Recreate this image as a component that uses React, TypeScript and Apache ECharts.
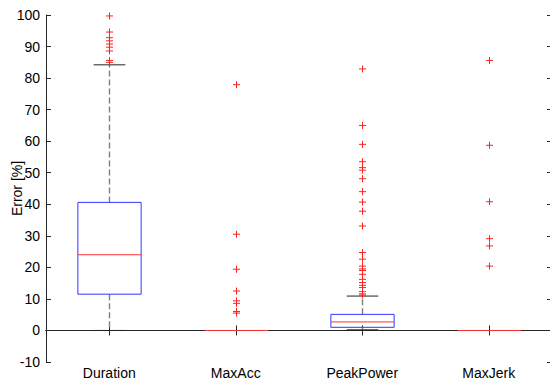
import React, { useEffect, useRef } from "react";
import * as echarts from "echarts";

const categories = ["Duration", "MaxAcc", "PeakPower", "MaxJerk"];
const whiskerLow = [0, 0, 0.2, 0];
const q1 = [11.5, 0, 1.0, 0];
const median = [24, 0, 2.7, 0];
const q3 = [40.6, 0, 5.1, 0];
const whiskerHigh = [84.2, 0, 10.9, 0];

const outliersDuration = [99.7, 94.6, 92.8, 91.8, 90.8, 89.8, 88.6, 85.6, 85.0];
const outliersMaxAcc = [77.9, 30.5, 19.4, 12.5, 9.4, 8.6, 6.0, 5.5];
const outliersPeakPower = [
  82.9, 65.0, 59.0, 53.5, 51.6, 50.8, 48.1, 44.0, 40.7, 37.8, 33.1, 24.7, 22.6,
  20.4, 19.5, 19.0, 17.8, 16.2, 15.2, 14.3, 13.6, 12.3, 11.6, 11.2,
];
const outliersMaxJerk = [85.6, 58.7, 40.8, 29.1, 26.8, 20.4];

const outlierLists = [outliersDuration, outliersMaxAcc, outliersPeakPower, outliersMaxJerk];

const yTicksMin = -10;
const yTicksMax = 100;
const yTicksStep = 10;

export default function App() {
  const ref = useRef<HTMLDivElement>(null);
  useEffect(() => {
    if (!ref.current) return;
    const chart = echarts.init(ref.current, null, { renderer: "svg" });
    const boxData = categories.map((_, i) => [i, whiskerLow[i], q1[i], median[i], q3[i], whiskerHigh[i]]);
    const outlierData: number[][] = [];
    outlierLists.forEach((list, i) => list.forEach((v) => outlierData.push([i, v])));
    const font = "Liberation Sans, Arial, Helvetica, sans-serif";
    const axisColor = "#262626";
    const fs = 14;
    chart.setOption({
      animation: false,
      textStyle: { fontFamily: font },
      grid: { left: 46, top: 15, width: 506, height: 347, containLabel: false, outerBoundsMode: "none" },
      xAxis: [
        {
          type: "category",
          data: categories,
          boundaryGap: true,
          axisLine: { show: true, lineStyle: { color: axisColor, width: 1 } },
          axisTick: { show: true, inside: true, alignWithLabel: true, length: 5, lineStyle: { color: axisColor } },
          axisLabel: { color: "#000", fontSize: fs, margin: 4, fontFamily: font },
          splitLine: { show: false },
        },
        {
          type: "category",
          data: categories,
          position: "top",
          boundaryGap: true,
          axisLine: { show: true, lineStyle: { color: axisColor, width: 1 } },
          axisTick: { show: true, inside: true, alignWithLabel: true, length: 5, lineStyle: { color: axisColor } },
          axisLabel: { show: false },
          splitLine: { show: false },
        },
      ],
      yAxis: [
        {
          type: "value",
          min: yTicksMin,
          max: yTicksMax,
          interval: yTicksStep,
          name: "Error [%]",
          nameLocation: "middle",
          nameGap: 22,
          nameRotate: 90,
          nameMoveOverlap: false,
          nameTextStyle: { color: "#000", fontSize: fs, fontFamily: font },
          axisLine: { show: true, lineStyle: { color: axisColor, width: 1 } },
          axisTick: { show: true, inside: true, length: 5, lineStyle: { color: axisColor } },
          axisLabel: { color: "#000", fontSize: fs, margin: 6, fontFamily: font },
          splitLine: { show: false },
        },
        {
          type: "value",
          position: "right",
          min: yTicksMin,
          max: yTicksMax,
          interval: yTicksStep,
          axisLine: { show: true, lineStyle: { color: axisColor, width: 1 } },
          axisTick: { show: true, inside: true, length: 5, lineStyle: { color: axisColor } },
          axisLabel: { show: false },
          splitLine: { show: false },
        },
      ],
      series: [
        {
          type: "custom",
          xAxisIndex: 0,
          yAxisIndex: 0,
          data: boxData,
          encode: { x: 0, y: [1, 2, 3, 4, 5] },
          renderItem: (params: any, api: any) => {
            const idx = api.value(0);
            const band = api.size([1, 0])[0];
            const halfBox = band * 0.25;
            const halfCap = band * 0.125;
            const pLow = api.coord([idx, api.value(1)]);
            const pQ1 = api.coord([idx, api.value(2)]);
            const pMed = api.coord([idx, api.value(3)]);
            const pQ3 = api.coord([idx, api.value(4)]);
            const pHigh = api.coord([idx, api.value(5)]);
            const cx = Math.round(pMed[0]) + 0.5;
            const children: any[] = [];
            const dash = { stroke: "#808080", lineWidth: 1.4, lineDash: [6, 3] };
            const degenerate = Math.abs(pHigh[1] - pLow[1]) < 0.5;
            if (!degenerate) {
              if (Math.abs(pHigh[1] - pQ3[1]) > 0.5)
                children.push({ type: "line", shape: { x1: cx, y1: pQ3[1], x2: cx, y2: pHigh[1] }, style: dash });
              if (Math.abs(pLow[1] - pQ1[1]) > 0.5)
                children.push({ type: "line", shape: { x1: cx, y1: pQ1[1], x2: cx, y2: pLow[1] }, style: dash });
              children.push({
                type: "line",
                shape: { x1: cx - halfCap, y1: pHigh[1], x2: cx + halfCap, y2: pHigh[1] },
                style: { stroke: "#222", lineWidth: 1 },
              });
              children.push({
                type: "line",
                shape: { x1: cx - halfCap, y1: pLow[1], x2: cx + halfCap, y2: pLow[1] },
                style: { stroke: "#222", lineWidth: 1 },
              });
              children.push({
                type: "rect",
                shape: { x: cx - halfBox, y: pQ3[1], width: halfBox * 2, height: pQ1[1] - pQ3[1] },
                style: { fill: "none", stroke: "#3333ff", lineWidth: 1 },
              });
            }
            children.push({
              type: "line",
              shape: { x1: cx - halfBox, y1: pMed[1], x2: cx + halfBox, y2: pMed[1] },
              style: { stroke: "#ff3333", lineWidth: 1 },
            });
            return { type: "group", children };
          },
        },
        {
          type: "custom",
          xAxisIndex: 0,
          yAxisIndex: 0,
          data: outlierData,
          encode: { x: 0, y: 1 },
          renderItem: (params: any, api: any) => {
            const p = api.coord([api.value(0), api.value(1)]);
            const cx = Math.round(p[0]) + 0.5;
            const s = 3.5;
            const st = { stroke: "#ff2020", lineWidth: 1 };
            return {
              type: "group",
              children: [
                { type: "line", shape: { x1: cx - s, y1: p[1], x2: cx + s, y2: p[1] }, style: st },
                { type: "line", shape: { x1: cx, y1: p[1] - s, x2: cx, y2: p[1] + s }, style: st },
              ],
            };
          },
        },
      ],
    });
    return () => chart.dispose();
  }, []);
  return (
    <div
      ref={ref}
      style={{ position: "absolute", left: 0, top: 0, width: 550, height: 381, background: "#fff" }}
    />
  );
}
